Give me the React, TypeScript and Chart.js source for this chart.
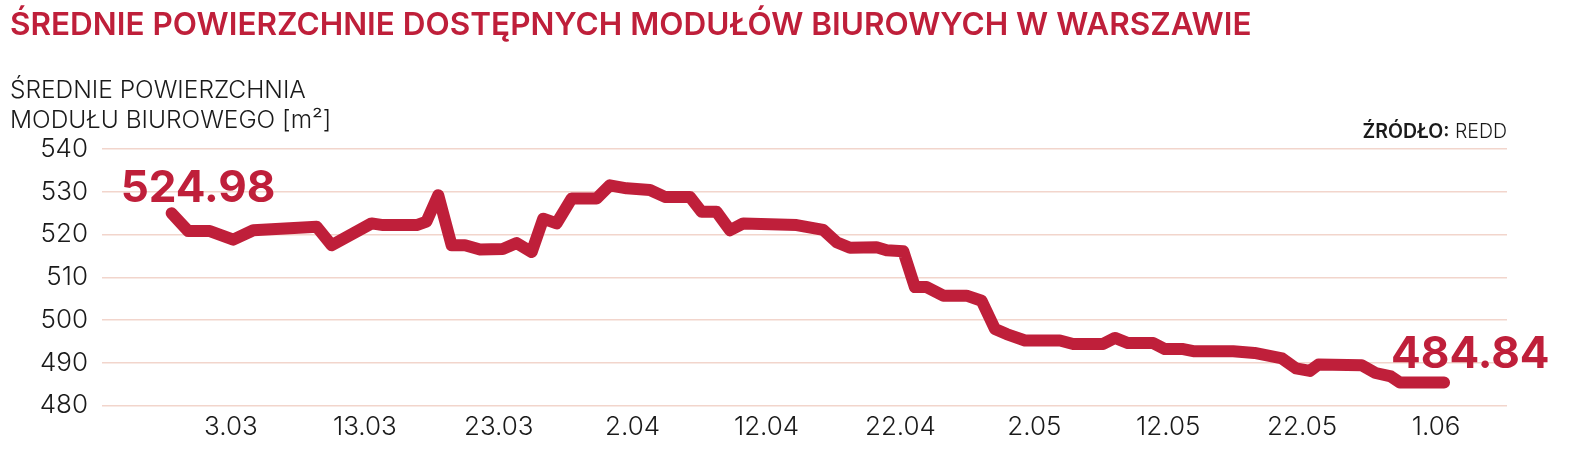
import React, { useEffect, useRef } from "react";
import { Chart, registerables } from "chart.js";

Chart.register(...registerables);

// Days counted from 3.03 (tick "3.03" = 0)
const dayOffsets = [
  -4.43, -3.19, -1.57, 0.17, 1.67, 6.4, 7.52, 10.5, 11.37, 13.87, 14.6, 15.48,
  16.48, 17.48, 18.6, 20.3, 21.34, 22.46, 23.32, 24.32, 25.44, 27.31, 28.3,
  29.55, 31.29, 32.41, 34.28, 35.15, 36.27, 37.27, 38.26, 42.25, 44.23, 45.23,
  46.23, 48.22, 48.97, 50.21, 51.08, 51.96, 53.2, 54.94, 56.06, 57.06, 57.93,
  59.3, 61.91, 62.9, 65.14, 66.02, 67.0, 68.88, 69.75, 71.12, 71.87, 74.85,
  76.44, 78.5, 79.54, 80.58, 81.22, 84.45, 85.48, 86.63, 87.3, 90.6,
];

const areaValues = [
  524.98, 520.8, 520.8, 518.8, 521, 521.8, 517.5, 522.6, 522.2, 522.2, 523,
  529.2, 517.5, 517.5, 516.5, 516.6, 518, 515.9, 523.7, 522.6, 528.4, 528.4,
  531.5, 530.8, 530.4, 528.8, 528.8, 525.3, 525.3, 521, 522.6, 522.2, 521.1,
  518.2, 516.9, 517, 516.3, 516.1, 507.7, 507.7, 505.7, 505.7, 504.5, 497.9,
  496.7, 495.2, 495.2, 494.4, 494.4, 495.8, 494.6, 494.6, 493.2, 493.2, 492.7,
  492.7, 492.3, 491, 488.7, 488.1, 489.6, 489.4, 487.6, 486.8, 485.4, 485.4,
];

const tickDays = [0, 10, 20, 30, 40, 50, 60, 70, 80, 90];
const tickLabels = ["3.03", "13.03", "23.03", "2.04", "12.04", "22.04", "2.05", "12.05", "22.05", "1.06"];

const yTicks = [480, 490, 500, 510, 520, 530, 540];

const startLabel = "524.98";
const endLabel = "484.84";

const RED = "#bf1f3a";
const FONT = "Inter, 'Noto Sans', sans-serif";

const valueLabels = {
  id: "valueLabels",
  afterDatasetsDraw(chart: any) {
    const meta = chart.getDatasetMeta(0);
    const pts = meta.data;
    if (!pts || !pts.length) return;
    const ctx = chart.ctx;
    ctx.save();
    ctx.fillStyle = RED;
    ctx.font = `700 44px ${FONT}`;
    ctx.textBaseline = "alphabetic";
    ctx.textAlign = "left";
    const f = pts[0];
    ctx.fillText(startLabel, f.x - 51, f.y - 11);
    const l = pts[pts.length - 1];
    ctx.fillText(endLabel, l.x - 53, l.y - 14);
    ctx.restore();
  },
};

export default function App() {
  const ref = useRef<HTMLCanvasElement | null>(null);

  useEffect(() => {
    if (!ref.current) return;
    const chart = new Chart(ref.current, {
      type: "line",
      data: {
        datasets: [
          {
            data: dayOffsets.map((d, i) => ({ x: d, y: areaValues[i] })),
            borderColor: RED,
            borderWidth: 12,
            pointRadius: 0,
            borderCapStyle: "round",
            borderJoinStyle: "round",
            tension: 0,
            clip: false as any,
          },
        ],
      },
      options: {
        animation: false,
        responsive: false,
        maintainAspectRatio: false,
        layout: { padding: { left: 0, top: 149, right: 72, bottom: 0 } },
        plugins: { legend: { display: false }, tooltip: { enabled: false } },
        scales: {
          x: {
            type: "linear",
            min: -9.63,
            max: 95.3,
            grid: { display: false, drawTicks: false },
            border: { display: false },
            afterBuildTicks: (scale: any) => {
              scale.ticks = tickDays.map((v) => ({ value: v }));
            },
            afterFit: (scale: any) => {
              scale.height = 56.5;
            },
            ticks: {
              autoSkip: false,
              maxRotation: 0,
              padding: 6,
              color: "#1a1a1a",
              font: { family: FONT, size: 26, weight: 300 as any },
              callback: (value: any) => {
                const i = tickDays.indexOf(Number(value));
                return i >= 0 ? tickLabels[i] : "";
              },
            },
          },
          y: {
            min: 480,
            max: 540,
            grid: { color: "#f2d5cc", lineWidth: 1.5, drawTicks: false },
            border: { display: false },
            afterBuildTicks: (scale: any) => {
              scale.ticks = yTicks.map((v) => ({ value: v }));
            },
            afterFit: (scale: any) => {
              scale.width = 102;
            },
            ticks: {
              padding: 14,
              color: "#1a1a1a",
              font: { family: FONT, size: 26, weight: 300 as any },
            },
          },
        },
      },
      plugins: [valueLabels],
    });
    return () => chart.destroy();
  }, []);

  return (
    <div style={{ position: "fixed", left: 0, top: 0, width: 1579, height: 462, background: "#fff", fontFamily: FONT }}>
      <canvas ref={ref} width={1579} height={462} style={{ position: "absolute", left: 0, top: 0, width: 1579, height: 462 }} />
      <div style={{ position: "absolute", left: 10, top: 8, fontSize: 31.5, lineHeight: 1, fontWeight: 600, color: RED, whiteSpace: "nowrap" }}>
        ŚREDNIE POWIERZCHNIE DOSTĘPNYCH MODUŁÓW BIUROWYCH W WARSZAWIE
      </div>
      <div style={{ position: "absolute", left: 10, top: 77, fontSize: 24.5, lineHeight: 1, fontWeight: 300, color: "#1a1a1a", whiteSpace: "nowrap" }}>
        ŚREDNIE POWIERZCHNIA
      </div>
      <div style={{ position: "absolute", left: 10, top: 107, fontSize: 24.5, lineHeight: 1, fontWeight: 300, color: "#1a1a1a", whiteSpace: "nowrap" }}>
        MODUŁU BIUROWEGO [m²]
      </div>
      <div style={{ position: "absolute", right: 1579 - 1507, top: 122, fontSize: 19.5, lineHeight: 1, color: "#1a1a1a", whiteSpace: "nowrap" }}>
        <span style={{ fontWeight: 600 }}>ŹRÓDŁO:</span>
        <span style={{ fontWeight: 300 }}> REDD</span>
      </div>
    </div>
  );
}
